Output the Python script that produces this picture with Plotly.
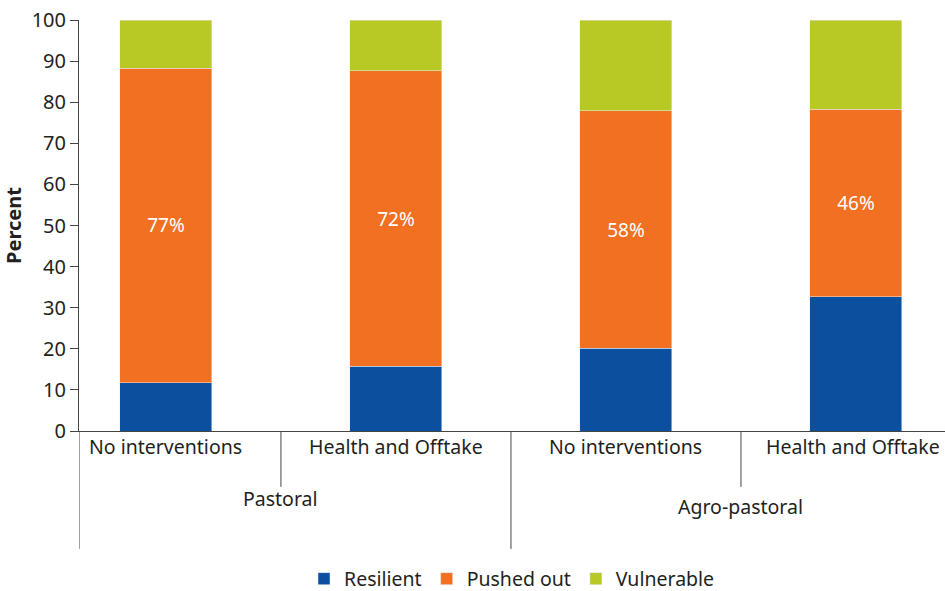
import plotly.graph_objects as go

# values (percent)
scenarios = ["No interventions", "Health and Offtake", "No interventions", "Health and Offtake"]
groups = ["Pastoral", "Agro-pastoral"]
resilient = [11.8, 15.8, 20.1, 32.7]
pushed_out = [76.5, 71.8, 57.8, 45.6]
vulnerable = [11.7, 12.4, 22.1, 21.7]
pushed_labels = ["77%", "72%", "58%", "46%"]
y_ticks = [0, 10, 20, 30, 40, 50, 60, 70, 80, 90, 100]

FONT = "Noto Sans"
TXT = "#231f20"
x_idx = list(range(len(scenarios)))

fig = go.Figure()
fig.add_trace(go.Bar(x=x_idx, y=resilient, name="Resilient", marker_color="#0a509e",
                     width=0.4))
fig.add_trace(go.Bar(x=x_idx, y=pushed_out, name="Pushed out", marker_color="#f27021",
                     width=0.4, text=pushed_labels, textposition="inside",
                     insidetextanchor="middle", textangle=0,
                     textfont=dict(color="white", size=19, family=FONT)))
fig.add_trace(go.Bar(x=x_idx, y=vulnerable, name="Vulnerable", marker_color="#b8c825",
                     width=0.4))

# divider lines below the axis
line = dict(color="#444444", width=1)
for xv, depth in [(-0.378, -0.287), (0.5, -0.136), (1.5, -0.287), (2.5, -0.136)]:
    fig.add_shape(type="line", xref="x", yref="paper", x0=xv, x1=xv, y0=0, y1=depth, line=line)

# scenario labels (last one nudged left so it stays inside the page)
for i, s in enumerate(scenarios):
    fig.add_annotation(x=i, xref="x", y=-0.075, yref="paper", text=s, showarrow=False,
                       xshift=-3 if i == len(scenarios) - 1 else 0,
                       font=dict(size=19.5, family=FONT, color=TXT))

# group labels
fig.add_annotation(x=0.5, xref="x", y=-0.202, yref="paper", text=groups[0], showarrow=False,
                   font=dict(size=19.5, family=FONT, color=TXT))
fig.add_annotation(x=2.5, xref="x", y=-0.221, yref="paper", text=groups[1], showarrow=False,
                   font=dict(size=19.5, family=FONT, color=TXT))

fig.update_layout(
    barmode="stack",
    width=945, height=591,
    margin=dict(l=79, r=0, t=20, b=160, autoexpand=False),
    plot_bgcolor="white", paper_bgcolor="white",
    font=dict(family=FONT, size=19, color=TXT),
    showlegend=True,
    legend=dict(orientation="h", x=0.5, xanchor="center", y=-0.36, yanchor="middle",
                font=dict(size=19.5, family=FONT), traceorder="normal"),
    xaxis=dict(range=[-0.378, 3.387], showticklabels=False, showgrid=False, zeroline=False,
               showline=True, linecolor="#444444", linewidth=1, ticks="", automargin=False),
    yaxis=dict(range=[0, 100], tickvals=y_ticks, showgrid=False, zeroline=False,
               showline=True, linecolor="#444444", linewidth=1, ticks="outside",
               ticklen=8, tickcolor="#444444", tickfont=dict(size=20, family=FONT, color=TXT),
               ticklabeloverflow="allow", automargin=False,
               title=dict(text="<b>Percent</b>", font=dict(size=20, family=FONT, color=TXT),
                          standoff=10)),
)

# drop the default page margin so the figure fills the window exactly
fig.write_html("out.html", config={"displayModeBar": False},
               post_script="document.body.style.margin='0';")
